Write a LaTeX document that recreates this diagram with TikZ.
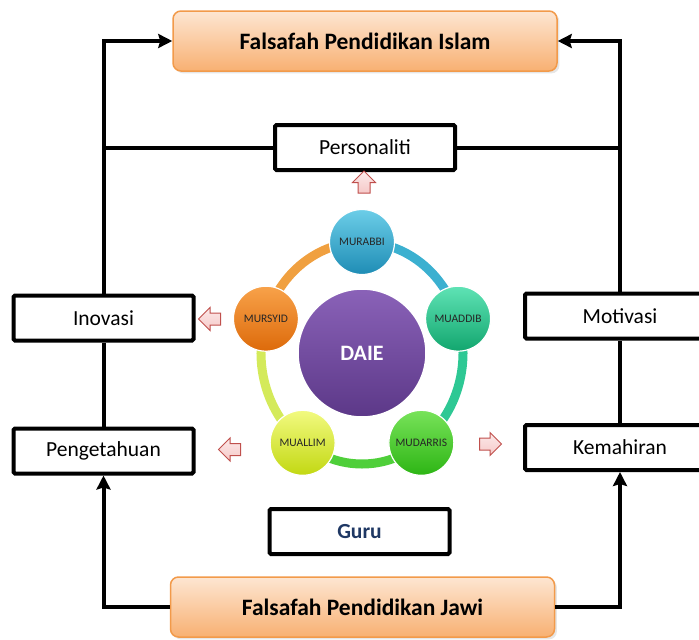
\documentclass[tikz,border=0pt]{standalone}
\usepackage{fontspec}
\setmainfont{Carlito}
\usepackage{xcolor}
\usepackage{tikz}
\usetikzlibrary{arrows.meta,shapes.arrows,shadows,calc}
\definecolor{peach}{HTML}{FDE6D2}
\definecolor{apricot}{HTML}{F8B072}
\definecolor{tangerine}{HTML}{F29A4A}
\definecolor{navy}{HTML}{1F3864}
\definecolor{rosefill}{HTML}{F6C9C8}
\definecolor{roseline}{HTML}{C0504D}
\definecolor{murabbiTop}{HTML}{6CCDE8}
\definecolor{murabbiBot}{HTML}{1E8DB5}
\definecolor{muaddibTop}{HTML}{5FE3B5}
\definecolor{muaddibBot}{HTML}{12A66E}
\definecolor{mudarrisTop}{HTML}{78E35A}
\definecolor{mudarrisBot}{HTML}{2DB514}
\definecolor{muallimTop}{HTML}{F2FA80}
\definecolor{muallimBot}{HTML}{C2D812}
\definecolor{mursyidTop}{HTML}{F8A24A}
\definecolor{mursyidBot}{HTML}{DD6A0A}
\definecolor{daieTop}{HTML}{8A62B8}
\definecolor{daieBot}{HTML}{5C3888}
\tikzstyle{aim} = [rectangle,rounded corners=8pt,minimum width=384pt,%
    minimum height=60pt, text centered, draw=tangerine, line width=1.5pt,
    top color=peach, bottom color=apricot, drop shadow={opacity=0.2},
    font=\bfseries\fontsize{23.5}{26}\selectfont]
\tikzstyle{trait} = [rectangle, rounded corners=1.5pt, draw=black, line width=4pt,
    fill=white, minimum width=180pt, minimum height=45pt, text centered,
    font=\fontsize{21.5}{25}\selectfont]
\tikzstyle{role} = [circle, minimum size=65pt, inner sep=0pt, draw=white,
    line width=1.2pt, font=\fontsize{11.5}{13}\selectfont, text=black!85]
\tikzstyle{nudge} = [single arrow, draw=roseline, line width=1pt,
    top color=white!60!rosefill, bottom color=rosefill, minimum height=22pt,
    inner sep=5.5pt, single arrow head extend=5.5pt]
\tikzstyle{arrow} = [line width=4pt,-{Stealth[length=14pt,width=14pt,inset=2pt]}]
\tikzstyle{plainline} = [line width=4pt]

\begin{document}
\begin{tikzpicture}[x=1pt,y=-1pt]
    \clip (0,0) rectangle (699,640);
    % the two philosophies
    \node (islam) [aim] at (365,41) {Falsafah Pendidikan Islam};
    \node (jawi) [aim] at (362.5,607) {Falsafah Pendidikan Jawi};
    % outcome boxes
    \node (personaliti) [trait] at (365,147.5) {Personaliti};
    \node (inovasi) [trait] at (103.5,318) {Inovasi};
    \node (pengetahuan) [trait] at (103.5,451) {Pengetahuan};
    \node (motivasi) [trait, minimum width=190pt] at (620,316) {Motivasi};
    \node (kemahiran) [trait, minimum width=190pt] at (620,447.5) {Kemahiran};
    \node (guru) [trait, font=\bfseries\fontsize{21.5}{25}\selectfont, text=navy] at (359.5,531.5) {Guru};
    % connectors
    \draw [arrow] (inovasi.north) |- (islam.west);
    \draw [plainline] (pengetahuan.north) -- (inovasi.south);
    \draw [arrow] (jawi.west) -| (pengetahuan.south);
    \draw [plainline] (personaliti.west) -- (personaliti.west -| inovasi.north);
    \draw [arrow] (motivasi.north) |- (islam.east);
    \draw [plainline] (kemahiran.north) -- (motivasi.south);
    \draw [arrow] (jawi.east) -| (kemahiran.south);
    \draw [plainline] (personaliti.east) -- (personaliti.east -| motivasi.north);
    % ring of roles
    \coordinate (hub) at (362,353);
    \foreach \a/\b/\c in {270/342/3BB0D0, 342/414/2EC894, 54/126/4FCF3A,
        126/198/D4EA5A, 198/270/F0A040} {
        \definecolor{seg}{HTML}{\c}
        \draw [seg, line width=9pt] ($(hub)+({101*cos(\a)},{111*sin(\a)})$)
            arc [start angle=\a, end angle=\b, x radius=101, y radius=111];
    }
    \node (daie) [circle, minimum size=128pt, draw=white, line width=1.5pt,
        top color=daieTop, bottom color=daieBot,
        font=\bfseries\fontsize{22}{26}\selectfont, text=white] at (hub) {DAIE};
    \node (murabbi) [role, top color=murabbiTop, bottom color=murabbiBot]
        at ($(hub)+({101*cos(270)},{111*sin(270)})$) {MURABBI};
    \node (muaddib) [role, top color=muaddibTop, bottom color=muaddibBot]
        at ($(hub)+({101*cos(342)},{111*sin(342)})$) {MUADDIB};
    \node (mudarris) [role, top color=mudarrisTop, bottom color=mudarrisBot]
        at ($(hub)+({101*cos(54)},{111*sin(54)})$) {MUDARRIS};
    \node (muallim) [role, top color=muallimTop, bottom color=muallimBot]
        at ($(hub)+({101*cos(126)},{111*sin(126)})$) {MUALLIM};
    \node (mursyid) [role, top color=mursyidTop, bottom color=mursyidBot]
        at ($(hub)+({101*cos(198)},{111*sin(198)})$) {MURSYID};
    % small pointers
    \node (upA) [nudge, shape border rotate=90] at (364,185) {};
    \node (leftA) [nudge, shape border rotate=180] at (212.5,319) {};
    \node (leftB) [nudge, shape border rotate=180] at (232.5,449.5) {};
    \node (rightA) [nudge] at (487.5,444) {};
\end{tikzpicture}
\end{document}
